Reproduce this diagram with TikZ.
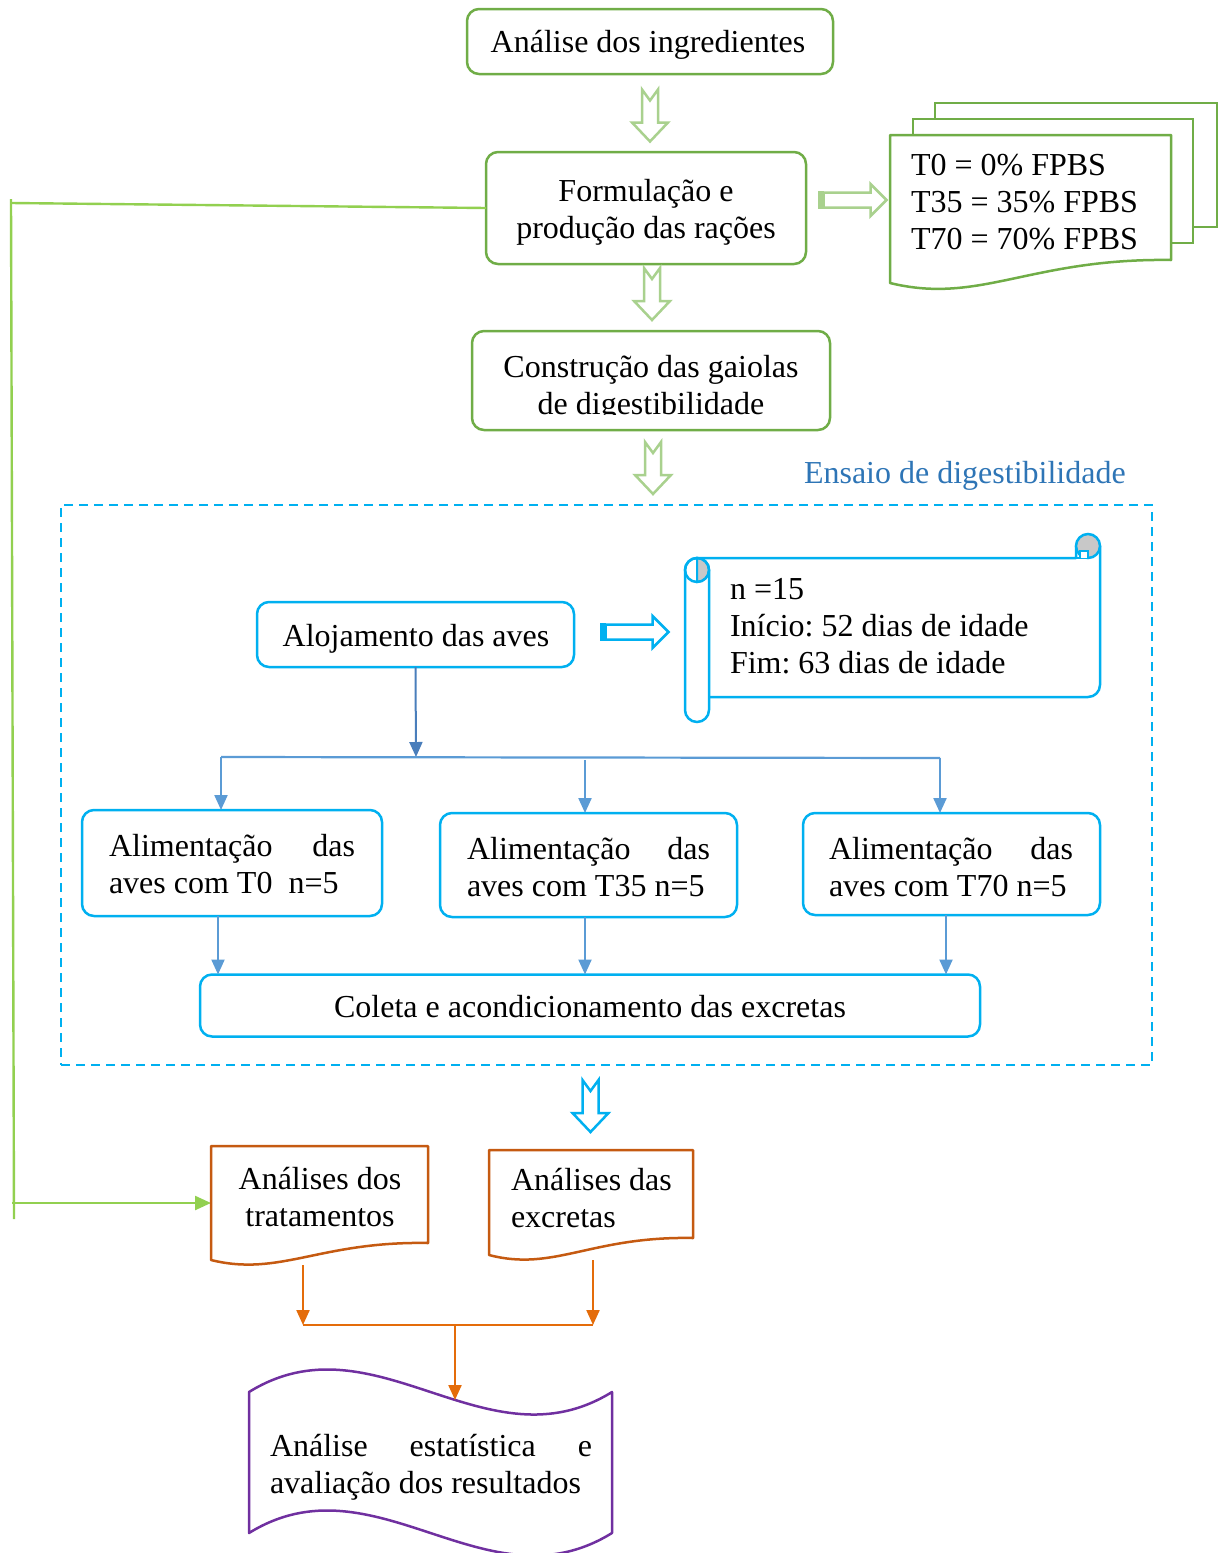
\documentclass[tikz,border=0pt]{standalone}
\usepackage{fontspec}
\setmainfont{Liberation Serif}
\usetikzlibrary{arrows.meta,calc}
\definecolor{gboxc}{HTML}{70AD47}
\definecolor{lgreen}{HTML}{A9D18E}
\definecolor{bgreen}{HTML}{92D050}
\definecolor{cyanc}{HTML}{00B0F0}
\definecolor{bluea}{HTML}{5B9BD5}
\definecolor{blued}{HTML}{4A7EBB}
\definecolor{ensaioc}{HTML}{2E75B6}
\definecolor{odoc}{HTML}{C55A11}
\definecolor{oarr}{HTML}{E46C0A}
\definecolor{purp}{HTML}{7030A0}
\definecolor{scrollgray}{HTML}{C8C8C8}
\newcommand{\firstln}{\rule{0pt}{30pt}}
\frenchspacing
\tikzset{
 pics/rtarrow/.style={code={
   \draw[draw=#1, line width=2.5pt, fill=white, line join=miter] (-29,-7.5) -- (18,-7.5) -- (18,-16) -- (34,0) -- (18,16) -- (18,7.5) -- (-29,7.5) -- cycle;
   \fill[#1] (-34.5,-8.7) rectangle (-29,8.7);}},
 pics/dnarrow/.style={code={
   \draw[draw=#1, line width=2.5pt, fill=white, line join=miter] (-8,-26) -- (0,-15) -- (8,-26) -- (8,7) -- (18,7) -- (0,26) -- (-18,7) -- (-8,7) -- cycle;}}
}
\begin{document}
\begin{tikzpicture}[x=1pt,y=-1pt, font=\fontsize{32}{37}\selectfont,
  every node/.style={inner sep=0pt, outer sep=0pt},
  gbox/.style={draw=gboxc, line width=2.5pt, rounded corners=12pt, fill=white},
  cbox/.style={draw=cyanc, line width=2.5pt, rounded corners=12pt, fill=white},
  txt/.style={inner sep=0pt, text=black},
  tip/.style={-{Triangle[length=15pt,width=13pt]}},
  gline/.style={draw=bgreen, line width=2.4pt},
  bline/.style={draw=bluea, line width=2.2pt},
  oline/.style={draw=oarr, line width=2.2pt},
  docline/.style={draw=odoc, line width=2.5pt, fill=white, line join=round}
]
\useasboundingbox (0,0) rectangle (1219,1553);

% ---------- top green part ----------
\node[gbox, minimum width=366pt, minimum height=65pt] (ing) at (650,41.5) {};
\node[txt, anchor=base] (ingT) at (648,52) {Análise dos ingredientes};

\node[gbox, minimum width=320pt, minimum height=112pt] (form) at (646,208) {};
\node[txt, anchor=north, align=center] (formT) at (646,171) {\firstln Formulação e\\produção das rações};

\node[gbox, minimum width=358pt, minimum height=99pt] (cons) at (651,380.5) {};
\begin{scope}
\clip (472,331) rectangle (830,414);
\node[txt, anchor=north, align=center] (consT) at (651,347) {\firstln Construção das gaiolas\\de digestibilidade};
\end{scope}

\pic at (650,115.5) {dnarrow=lgreen};
\pic at (652,294) {dnarrow=lgreen};
\pic at (653,468) {dnarrow=lgreen};

% right arrow to multi-document
\pic at (852.5,200) {rtarrow=lgreen};

% multi-document
\draw[draw=gboxc, line width=2.5pt, fill=white] (935,135) -- (935,103) -- (1217,103) -- (1217,227) -- (1193,227);
\draw[draw=gboxc, line width=2.5pt, fill=white] (913,135) -- (913,119) -- (1193,119) -- (1193,243) -- (1171,243);
\draw[draw=gboxc, line width=2.5pt, fill=white, line join=round] (890,135) -- (1171,135) -- (1171,260) .. controls (1030,258) and (980,305) .. (890,283) -- cycle;
\node[txt, anchor=north west, align=left] (tratT) at (911,145) {\firstln T0 = 0\% FPBS\\T35 = 35\% FPBS\\T70 = 70\% FPBS};

% left green line to Análises dos tratamentos
\coordinate (gcorner) at (11,203);
\coordinate (vtop) at (11,199);
\coordinate (vbot) at (14,1219);
\coordinate (garr) at (12,1203);
\coordinate (treatL) at (211,1203);
\draw[gline] (form.west) -- (gcorner);
\draw[gline] (vtop) -- (vbot);
\draw[gline, -{Triangle[length=16pt,width=14pt]}, fill=bgreen] (garr) -- (treatL);

% ---------- Ensaio de digestibilidade ----------
\node[txt, anchor=base west, text=ensaioc] (ensT) at (804,483) {Ensaio de digestibilidade};
\node[draw=cyanc, line width=2.5pt, dash pattern=on 9pt off 6pt, minimum width=1091pt, minimum height=560pt] (ensaio) at (606.5,785) {};

\node[cbox, minimum width=317pt, minimum height=65pt] (aloj) at (415.5,634.5) {};
\node[txt, anchor=base] (alojT) at (416,646) {Alojamento das aves};

\pic at (634.5,632) {rtarrow=cyanc};

% horizontal scroll
\draw[draw=cyanc, line width=2.5pt, fill=white, line join=round]
  (709,697) -- (1088,697) arc (90:0:12) -- (1100,546) -- (1076,546) -- (1076,558) -- (697,558) -- (697,697) -- cycle;
\draw[draw=cyanc, line width=2.5pt] (697,558) -- (1088,558);
\filldraw[draw=cyanc, line width=2.5pt, fill=scrollgray] (1088,546) circle (12);
\filldraw[draw=cyanc, line width=2pt, fill=white] (1080,558) -- (1080,551) -- (1088,551) -- (1088,558);
\draw[draw=cyanc, line width=2.5pt, fill=white] (685,570) -- (685,710) arc (180:0:12) -- (709,570) arc (0:-180:12) -- cycle;
\filldraw[draw=cyanc, line width=2pt, fill=scrollgray] (697,558) arc (-90:90:12) -- cycle;
\draw[draw=cyanc, line width=2.5pt] (697,570) circle (12);
\node[txt, anchor=north west, align=left] (scrT) at (730,569) {\firstln n =15\\Início: 52 dias de idade\\Fim: 63 dias de idade};

% branch
\coordinate (barM) at (416,757);
\coordinate (barL) at (221,757);
\coordinate (barR) at (940,758);
\coordinate (barC) at (585,760);
\draw[draw=blued, line width=2pt, tip] (aloj.south) -- (barM);
\draw[bline] (barL) -- (barR);

\node[cbox, minimum width=300pt, minimum height=106pt] (al1) at (232,863) {};
\node[txt, anchor=north west, align=left] (al1T) at (109,826) {\firstln\hbox to 246pt{Alimentação\hfill das}\\aves com T0\ \ n=5};
\node[cbox, minimum width=297pt, minimum height=104pt] (al2) at (588.5,865) {};
\node[txt, anchor=north west, align=left] (al2T) at (467,829) {\firstln\hbox to 243pt{Alimentação\hfill das}\\aves com T35 n=5};
\node[cbox, minimum width=297pt, minimum height=102pt] (al3) at (951.5,864) {};
\node[txt, anchor=north west, align=left] (al3T) at (829,829) {\firstln\hbox to 244pt{Alimentação\hfill das}\\aves com T70 n=5};

\draw[bline, tip] (barL) -- (barL |- al1.north);
\draw[bline, tip] (barC) -- (barC |- al2.north);
\draw[bline, tip] (barR) -- (barR |- al3.north);

\node[cbox, minimum width=780pt, minimum height=62pt] (col) at (590,1005.5) {};
\node[txt, anchor=base] (colT) at (590,1017) {Coleta e acondicionamento das excretas};

\coordinate (a1b) at (218,916);
\coordinate (a2b) at (585,917);
\coordinate (a3b) at (946,915);
\draw[bline, tip] (a1b) -- (a1b |- col.north);
\draw[bline, tip] (a2b) -- (a2b |- col.north);
\draw[bline, tip] (a3b) -- (a3b |- col.north);

\pic at (590.5,1106) {dnarrow=cyanc};

% ---------- analyses ----------
\draw[docline] (211,1146) -- (428,1146) -- (428,1243) .. controls (320,1241) and (280,1277) .. (211,1260) -- cycle;
\node[txt, anchor=north, align=center] (treatT) at (320,1159) {\firstln Análises dos\\tratamentos};
\draw[docline] (489,1150) -- (693,1150) -- (693,1238) .. controls (591,1236) and (554,1272) .. (489,1255) -- cycle;
\node[txt, anchor=north west, align=left] (excT) at (511,1160) {\firstln Análises das\\excretas};

\coordinate (o1) at (303,1265);
\coordinate (o2) at (593,1260);
\coordinate (ob1) at (303,1325);
\coordinate (ob2) at (593,1325);
\coordinate (obm) at (455,1325);
\coordinate (wtop) at (455,1400);
\draw[oline, tip] (o1) -- (ob1);
\draw[oline, tip] (o2) -- (ob2);
\draw[oline] (ob1) -- (ob2);

% wave
\draw[draw=purp, line width=2.5pt, fill=white, line join=round] (249,1392) .. controls (375,1314) and (486,1470) .. (612,1392) -- (612,1533) .. controls (486,1611) and (375,1455) .. (249,1533) -- cycle;
\node[txt, anchor=north west, align=left] (statT) at (270,1426) {\firstln\hbox to 322pt{Análise\hfill estatística\hfill e}\\avaliação dos resultados};
\draw[oline, tip] (obm) -- (wtop);
\end{tikzpicture}
\end{document}
